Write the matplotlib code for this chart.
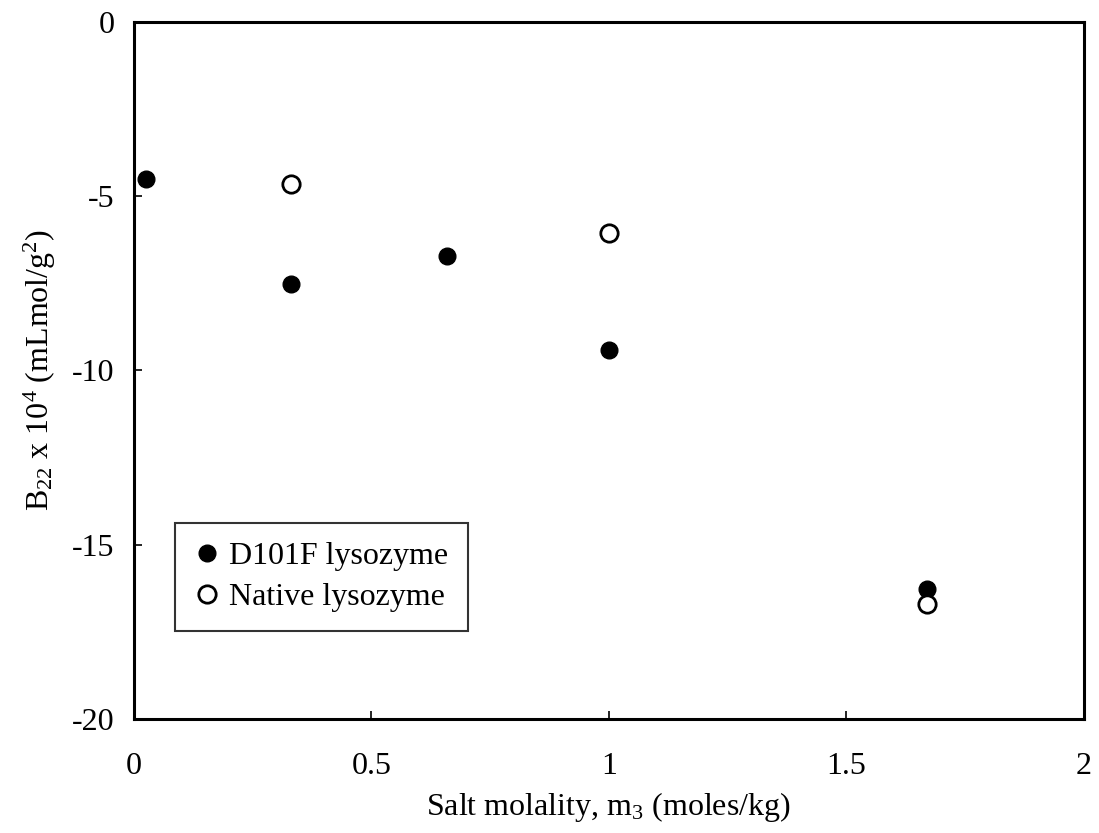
import matplotlib
matplotlib.use("Agg")
import matplotlib.pyplot as plt

plt.rcParams['font.family'] = ['Liberation Serif', 'DejaVu Serif']
plt.rcParams['mathtext.fontset'] = 'custom'
plt.rcParams['mathtext.rm'] = 'Liberation Serif'
plt.rcParams['mathtext.it'] = 'Liberation Serif'

d101f_x = [0.025, 0.33, 0.66, 1.0, 1.67]
d101f_y = [-4.5, -7.52, -6.71, -9.41, -16.27]
native_x = [0.33, 1.0, 1.67]
native_y = [-4.67, -6.05, -16.7]

xticks = [0, 0.5, 1, 1.5, 2]
xticklabels = ["0", "0.5", "1", "1.5", "2"]
yticks = [-20, -15, -10, -5, 0]
yticklabels = ["-20", "-15", "-10", "-5", "0"]

fig = plt.figure(figsize=(10.99, 8.33), dpi=100)
ax = fig.add_axes([0.122, 0.137, 0.864, 0.837])

ax.plot(d101f_x, d101f_y, linestyle='none', marker='o', markersize=12,
        color='black', label='D101F lysozyme')
ax.plot(native_x, native_y, linestyle='none', marker='o', markersize=12.5,
        markerfacecolor='white', markeredgecolor='black', markeredgewidth=2,
        label='Native lysozyme')

ax.set_xlim(0, 2)
ax.set_ylim(-20, 0)
ax.set_xticks(xticks)
ax.set_xticklabels(xticklabels)
ax.set_yticks(yticks)
ax.set_yticklabels(yticklabels)
ax.tick_params(direction='in', length=6, width=1.2, labelsize=23)
ax.tick_params(axis='x', pad=24)
ax.tick_params(axis='y', pad=14)
for s in ax.spines.values():
    s.set_linewidth(2.2)

ax.set_xlabel("Salt molality, m$_3$ (moles/kg)", fontsize=23, labelpad=6)
ax.set_ylabel("B$_{22}$ x 10$^4$ (mLmol/g$^2$)", fontsize=23, labelpad=10)

leg = ax.legend(loc='upper left', bbox_to_anchor=(0.043, 0.281), fontsize=23,
                frameon=True, fancybox=False, edgecolor='black',
                handlelength=0.8, handletextpad=0.3, borderpad=0.6,
                labelspacing=0.35, borderaxespad=0)
leg.get_frame().set_linewidth(1.5)

fig.savefig("out.png", dpi=100)
